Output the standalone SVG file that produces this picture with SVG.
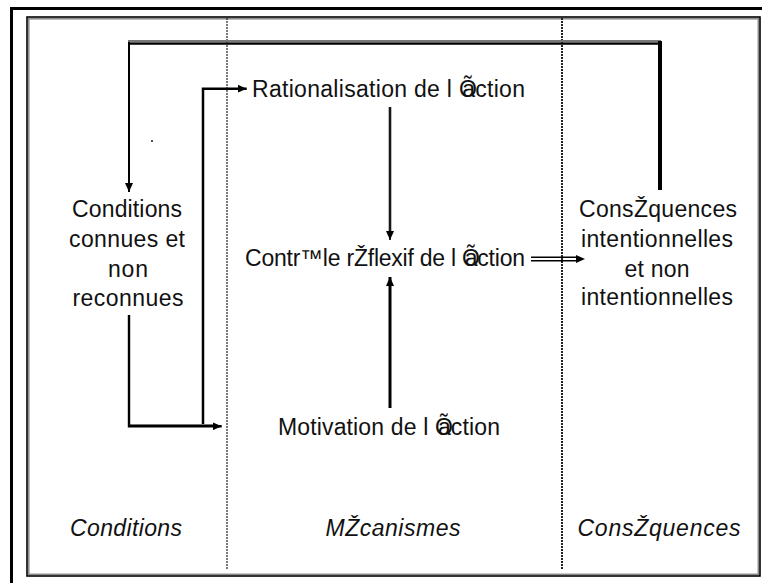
<svg xmlns="http://www.w3.org/2000/svg" width="762" height="583" viewBox="0 0 762 583">
<style>
.t{font-family:"Liberation Sans",Arial,sans-serif;font-size:23px;fill:#111}
.c{text-anchor:middle}
.i{font-style:italic}
.ln{fill:none;stroke:#000;stroke-linecap:butt}
.col{stroke:#222;stroke-dasharray:2,1;fill:none}
</style>
<defs>
<marker id="ah" viewBox="0 0 9 8" refX="9" refY="4" markerWidth="9" markerHeight="8" orient="auto" markerUnits="userSpaceOnUse">
<path d="M0,0 L9,4 L0,8 z" fill="#000"/>
</marker>
</defs>
<rect width="762" height="583" fill="#fff"/>
<g id="frame">
<rect x="11.5" y="8.5" width="800" height="620" fill="none" stroke="#000" stroke-width="3"/>
<rect x="28.8" y="18.8" width="729.5" height="555.5" fill="none" stroke="#888" stroke-width="1.5"/>
<rect x="27" y="17" width="733" height="559" fill="none" stroke="#000" stroke-width="1.6"/>
<line class="col" x1="227" y1="18" x2="227" y2="569" stroke-width="1.2"/>
<line class="col" x1="562" y1="18" x2="562" y2="569" stroke-width="2"/>
<circle cx="152" cy="141" r="0.9" fill="#000"/>
</g>
<g id="connectors">
<line x1="128" y1="41.2" x2="661" y2="41.2" stroke="#777" stroke-width="2.4"/>
<line x1="128" y1="43.6" x2="662" y2="43.6" stroke="#000" stroke-width="2.4"/>
<line class="ln" x1="129" y1="42" x2="129" y2="192" stroke-width="2" marker-end="url(#ah)"/>
<line class="ln" x1="660" y1="41" x2="660" y2="190" stroke-width="4"/>
<polyline class="ln" points="203,426 203,88.7 246.7,88.7" stroke-width="2.5" marker-end="url(#ah)"/>
<line x1="129" y1="424.8" x2="214" y2="424.8" stroke="#777" stroke-width="1.5"/>
<polyline class="ln" points="129,315 129,426.3 221.7,426.3" stroke-width="2.4" marker-end="url(#ah)"/>
<line x1="390" y1="107" x2="390" y2="232" stroke="#777" stroke-width="3"/>
<line class="ln" x1="390" y1="107" x2="390" y2="240" stroke-width="1.6" marker-end="url(#ah)"/>
<line class="ln" x1="390" y1="408" x2="390" y2="277" stroke-width="3" marker-end="url(#ah)"/>
<line class="ln" x1="531" y1="257.3" x2="578" y2="257.3" stroke-width="1.4"/>
<line class="ln" x1="531" y1="260.7" x2="578" y2="260.7" stroke-width="1.4"/>
<path d="M576,255 L585,259 L576,263 z" fill="#000"/>
</g>
<g id="n-rationalisation">
<text class="t" x="252" y="97" textLength="273" lengthAdjust="spacing">Rationalisation de l <tspan>Õ</tspan><tspan dx="-15">action</tspan></text>
</g>
<g id="n-controle">
<text class="t" x="245" y="266" textLength="280" lengthAdjust="spacing">Contr™le rŽflexif de l <tspan>Õ</tspan><tspan dx="-15">action</tspan></text>
</g>
<g id="n-motivation">
<text class="t" x="278" y="435" textLength="222" lengthAdjust="spacing">Motivation de l <tspan>Õ</tspan><tspan dx="-15">action</tspan></text>
</g>
<g id="n-conditions">
<text class="t c" x="127" y="217" textLength="110" lengthAdjust="spacing">Conditions</text>
<text class="t c" x="127" y="247" textLength="116" lengthAdjust="spacing">connues et</text>
<text class="t c" x="128" y="277" textLength="40" lengthAdjust="spacing">non</text>
<text class="t c" x="128" y="306" textLength="111" lengthAdjust="spacing">reconnues</text>
</g>
<g id="n-consequences">
<text class="t c" x="658" y="217" textLength="158" lengthAdjust="spacing">ConsŽquences</text>
<text class="t c" x="657" y="247" textLength="152" lengthAdjust="spacing">intentionnelles</text>
<text class="t c" x="657" y="277" textLength="65" lengthAdjust="spacing">et non</text>
<text class="t c" x="657" y="305" textLength="152" lengthAdjust="spacing">intentionnelles</text>
</g>
<g id="labels">
<text class="t c i" x="126" y="536" textLength="112" lengthAdjust="spacing">Conditions</text>
<text class="t c i" x="393" y="536" textLength="135" lengthAdjust="spacing">MŽcanismes</text>
<text class="t c i" x="659" y="536" textLength="163" lengthAdjust="spacing">ConsŽquences</text>
</g>
</svg>
